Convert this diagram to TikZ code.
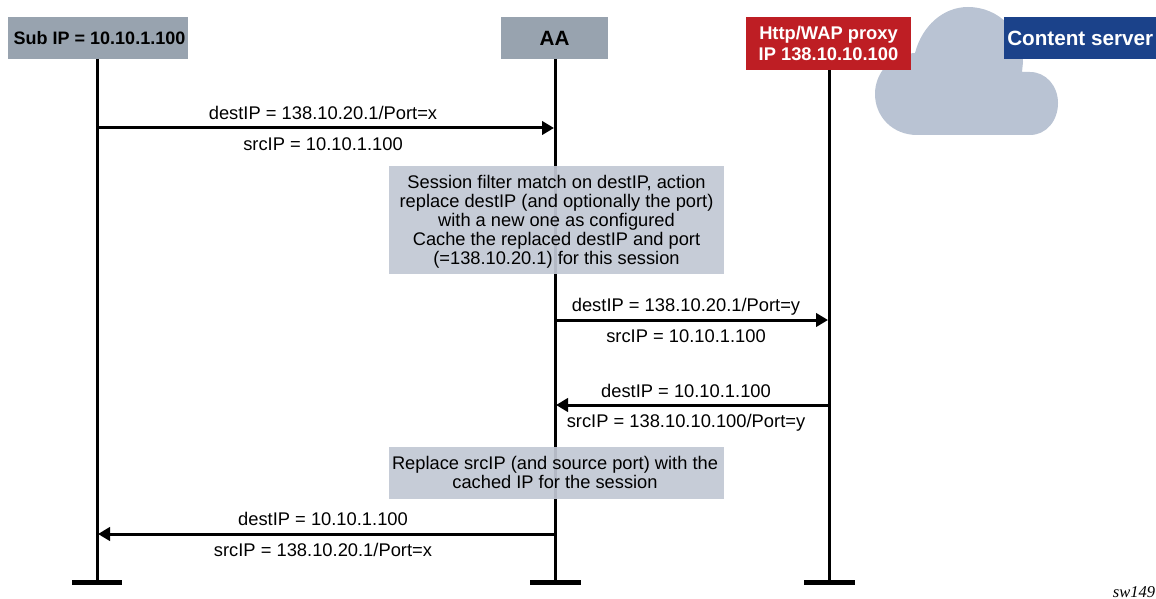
\documentclass[tikz,border=0pt]{standalone}
\usepackage{fontspec}
\setmainfont{Liberation Sans}
\newfontfamily\refont{Liberation Serif}
\definecolor{hostgrey}{HTML}{98A3AF}
\definecolor{proxyred}{HTML}{BE1E24}
\definecolor{serverblue}{HTML}{1B428A}
\definecolor{cloudgrey}{HTML}{B9C3D3}
\definecolor{notegrey}{HTML}{C2C8D4}
\tikzset{
  head/.style={inner sep=0pt,outer sep=0pt,font=\fontsize{13.75}{16}\selectfont\bfseries,align=center},
  note/.style={fill=notegrey,fill opacity=0.93,inner sep=0pt,minimum width=251.25pt},
  notetext/.style={inner sep=0pt,align=center,font=\fontsize{13.7}{14.25}\selectfont},
  msg/.style={inner sep=0pt,text height=10pt,text depth=3pt,font=\fontsize{13.75}{15}\selectfont},
  life/.style={line width=2.25pt},
  foot/.style={line width=3.75pt},
  call/.style={line width=2.25pt,-{Triangle[length=9pt,width=10pt]}}
}
\usetikzlibrary{arrows.meta}
\begin{document}
\begin{tikzpicture}[x=0.75pt,y=-0.75pt]
  \useasboundingbox (0,0) rectangle (1156,599);
  % cloud behind the proxy and the server
  \fill[cloudgrey] (917,135) .. controls (893,135) and (875,117) .. (875,94)
    .. controls (875,72) and (892,54) .. (915,53)
    .. controls (922,26) and (943,7) .. (968,7)
    .. controls (999,7) and (1023,32) .. (1023,62) -- (1022,72) -- (1030,72)
    .. controls (1046,72) and (1058,86) .. (1058,103)
    .. controls (1058,121) and (1046,135) .. (1030,135) -- cycle;
  % ends of the lifelines
  \coordinate (subend) at (97,582);
  \coordinate (aaend) at (555,582);
  \coordinate (proxyend) at (829,582);
  % lifeline heads
  \node[head,fill=hostgrey,minimum width=135pt,minimum height=31.5pt] (sub) at (98,38) {};
  \node[inner sep=0pt,font=\fontsize{13.5}{16}\selectfont\bfseries] (subtext) at (99.5,38.5) {Sub IP = 10.10.1.100};
  \node[head,fill=hostgrey,minimum width=80.25pt,minimum height=31.5pt,font=\fontsize{15.5}{18}\selectfont\bfseries] (aa) at (554.5,38) {AA};
  \node[head,fill=proxyred,text=white,minimum width=123.75pt,minimum height=39.75pt] (proxy) at (828.5,43.5) {Http/WAP proxy\\IP 138.10.10.100};
  \node[head,fill=serverblue,minimum width=114pt,minimum height=31.5pt] (server) at (1080,38) {};
  \node[inner sep=0pt,anchor=west,text=white,font=\fontsize{15.5}{18}\selectfont\bfseries] (servertext) at (1007,38.5) {Content server};
  \draw[life] (sub.south -| subend) -- (subend);
  \draw[life] (aa.south -| aaend) -- (aaend);
  \draw[life] (proxy.south -| proxyend) -- (proxyend);
  \draw[foot] (72,582.5) -- (122,582.5);
  \draw[foot] (530,582.5) -- (581,582.5);
  \draw[foot] (804,582.5) -- (855,582.5);
  % notes
  \node[note,minimum height=81pt] (filter) at (556.5,220) {};
  \node[notetext] (filtertext) at (556.5,221.5) {Session filter match on destIP, action\\replace destIP (and optionally the port)\\with a new one as configured\\Cache the replaced destIP and port\\(=138.10.20.1) for this session};
  \node[note,minimum height=39pt] (cached) at (556.5,473) {};
  \node[notetext] (cachedtext) at (555,472) {Replace srcIP (and source port) with the\\cached IP for the session};
  % messages
  \coordinate (m1a) at (97,128);
  \coordinate (m1b) at (554,128);
  \coordinate (m2a) at (555,320);
  \coordinate (m2b) at (828,320);
  \coordinate (m3a) at (829,405);
  \coordinate (m3b) at (556,405);
  \coordinate (m4a) at (555,534);
  \coordinate (m4b) at (98,534);
  \draw[call] (m1a) -- (m1b);
  \draw[call] (m2a) -- (m2b);
  \draw[call] (m3a) -- (m3b);
  \draw[call] (m4a) -- (m4b);
  \node[msg] (d1) at (323,115) {destIP = 138.10.20.1/Port=x};
  \node[msg] (s1) at (323,146) {srcIP = 10.10.1.100};
  \node[msg] (d2) at (686,307) {destIP = 138.10.20.1/Port=y};
  \node[msg] (s2) at (686,338) {srcIP = 10.10.1.100};
  \node[msg] (d3) at (686,393) {destIP = 10.10.1.100};
  \node[msg] (s3) at (686,423) {srcIP = 138.10.10.100/Port=y};
  \node[msg] (d4) at (323,521) {destIP = 10.10.1.100};
  \node[msg] (s4) at (323,552) {srcIP = 138.10.20.1/Port=x};
  \node[anchor=east,inner sep=0pt,font=\fontsize{12.4}{15}\selectfont\refont\itshape] (ref) at (1155.5,592) {sw149};
\end{tikzpicture}
\end{document}
